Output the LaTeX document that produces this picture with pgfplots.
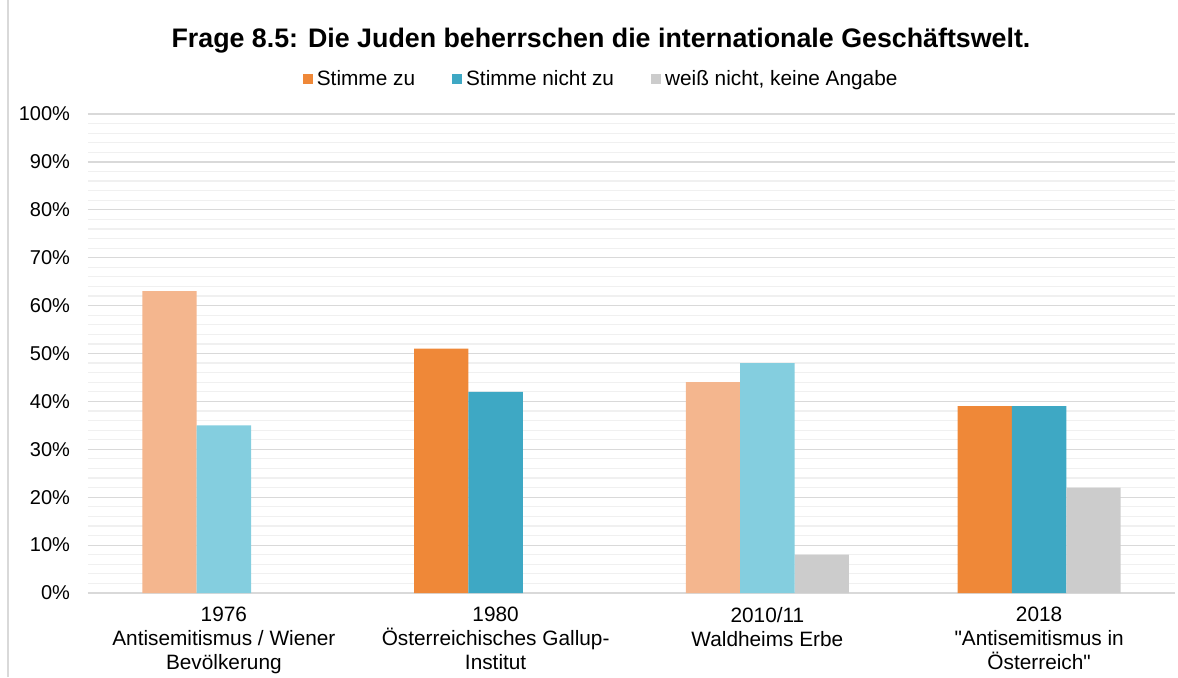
\documentclass[border=0pt]{standalone}
\usepackage{pgfplots}
\pgfplotsset{compat=1.18}
\usepackage{fontspec}
\setmainfont{Liberation Sans}
\definecolor{cOr}{HTML}{EF8838}
\definecolor{cOrL}{HTML}{F4B68E}
\definecolor{cBl}{HTML}{3EA8C4}
\definecolor{cBlL}{HTML}{84CEDF}
\definecolor{cGr}{HTML}{CCCCCC}
\begin{document}
\begin{tikzpicture}[x=1pt,y=1pt]
\useasboundingbox (0,0) rectangle (589,338.5);
\draw[black!15, line width=0.6pt] (4,0)--(4,338.5);
\node[font=\bfseries\fontsize{13.4}{15}\selectfont] at (300.5,318) {Frage 8.5: Die Juden beherrschen die internationale Geschäftswelt.};
\begin{axis}[
  at={(44pt,42pt)}, anchor=south west,
  width=543.5pt, height=239.5pt, scale only axis,
  xmin=-0.5, xmax=3.5, ymin=0, ymax=100,
  axis line style={draw=none},
  ytick={0,10,...,100}, minor y tick num=4,
  ymajorgrids, yminorgrids,
  major grid style={draw=black!15, line width=0.6pt},
  minor grid style={draw=black!6, line width=0.6pt},
  major tick length=0pt, minor tick length=0pt,
  yticklabel={\pgfmathprintnumber{\tick}\%},
  /pgf/number format/assume math mode=true,
  yticklabel style={font=\fontsize{10}{12}\selectfont, xshift=-5.5pt},
  xtick={0,1,2,3},
  xticklabels={{1976\\Antisemitismus / Wiener\\Bevölkerung},
               {1980\\Österreichisches Gallup-\\Institut},
               {2010/11\\Waldheims Erbe},
               {2018\\\textquotedbl Antisemitismus in\\Österreich\textquotedbl}},
  xticklabel style={align=center, font=\fontsize{10.4}{12}\selectfont, anchor=north, yshift=-3.5pt},
  ybar, bar width=0.2,
  legend style={at={(0.473,1.073)}, anchor=center, draw=none, fill=none,
    legend columns=3, font=\fontsize{10.4}{12}\selectfont,
    /tikz/every even column/.append style={column sep=16.5pt}},
  legend image code/.code={\fill[#1] (0pt,-2.6pt) rectangle (5pt,2.6pt);},
]
\addplot[fill=cOr, draw=none, bar shift=-0.2] coordinates {(1,51) (3,39)};
\addlegendentry{Stimme zu}
\addplot[fill=cBl, draw=none, bar shift=0] coordinates {(1,42) (3,39)};
\addlegendentry{Stimme nicht zu}
\addplot[fill=cGr, draw=none, bar shift=0.2] coordinates {(2,8) (3,22)};
\addlegendentry{weiß nicht, keine Angabe}
\addplot[fill=cOrL, draw=none, bar shift=-0.2, forget plot] coordinates {(0,63) (2,44)};
\addplot[fill=cBlL, draw=none, bar shift=0, forget plot] coordinates {(0,35) (2,48)};
\end{axis}
\end{tikzpicture}
\end{document}
